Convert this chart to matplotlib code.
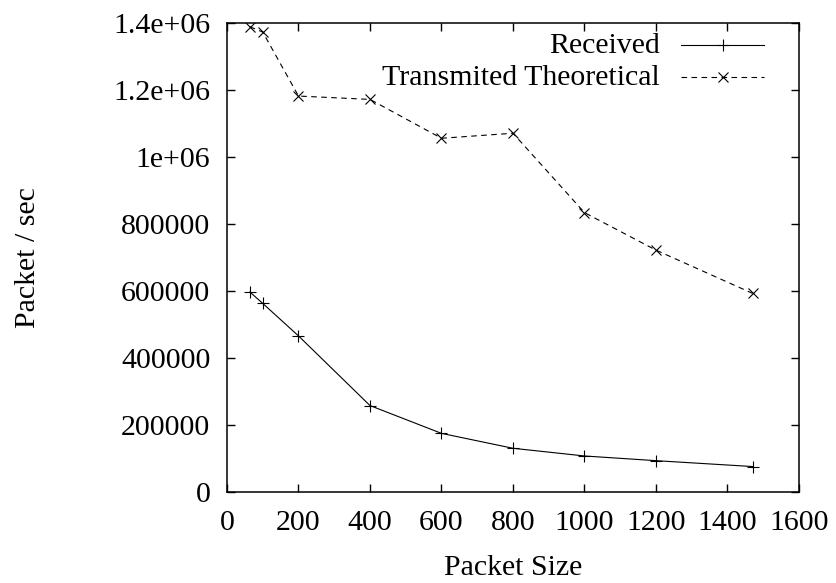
#!/usr/bin/env python3
import matplotlib
matplotlib.use('Agg')
import matplotlib.pyplot as plt

# packet size vs rate
sizes = [64, 100, 200, 400, 600, 800, 1000, 1200, 1470]
received = [597000, 563000, 466000, 258000, 175000, 130500, 107500, 93500, 76000]
transmitted = [1389000, 1373000, 1182000, 1172000, 1056000, 1071000, 834000, 722000, 593000]

xticks = [0, 200, 400, 600, 800, 1000, 1200, 1400, 1600]
yticks = [0, 200000, 400000, 600000, 800000, 1000000, 1200000, 1400000]
ytick_labels = ['0', '200000', '400000', '600000', '800000', '1e+06', '1.2e+06', '1.4e+06']

plt.rcParams['font.family'] = ['Liberation Serif', 'DejaVu Serif']
plt.rcParams['font.size'] = 21.5

fig = plt.figure(figsize=(8.37, 5.83), dpi=100)
ax = fig.add_axes([0.2712, 0.1561, 0.6834, 0.8044])

ax.plot(sizes, received, color='black', lw=0.8, marker='+', ms=9, mew=0.8)
ax.plot(sizes, transmitted, color='black', lw=0.8, ls=(0, (5, 4)),
        marker='x', ms=7, mew=0.8)

ax.set_xlim(0, 1600)
ax.set_ylim(0, 1400000)
ax.set_xticks(xticks)
ax.set_yticks(yticks)
ax.set_yticklabels(ytick_labels)
ax.tick_params(direction='in', length=6, width=1, top=True, right=True)
ax.tick_params(axis='x', pad=13)
ax.tick_params(axis='y', pad=12)
for s in ax.spines.values():
    s.set_linewidth(1.1)

ax.set_xlabel('Packet Size', labelpad=14)
ax.set_ylabel('Packet / sec', labelpad=52)

# gnuplot-style key: text right aligned, sample on the right
ax.text(0.757, 0.95, 'Received', transform=ax.transAxes, ha='right', va='center')
ax.plot([0.794, 0.939], [0.953, 0.953], transform=ax.transAxes, color='black', lw=0.8)
ax.plot([0.8665], [0.953], transform=ax.transAxes, color='black', marker='+', ms=9, mew=0.8)
ax.text(0.757, 0.882, 'Transmited Theoretical', transform=ax.transAxes, ha='right', va='center')
ax.plot([0.794, 0.939], [0.885, 0.885], transform=ax.transAxes, color='black', lw=0.8, ls=(0, (5, 4)))
ax.plot([0.8665], [0.885], transform=ax.transAxes, color='black', marker='x', ms=7, mew=0.8)

fig.savefig('out.png', dpi=100)
